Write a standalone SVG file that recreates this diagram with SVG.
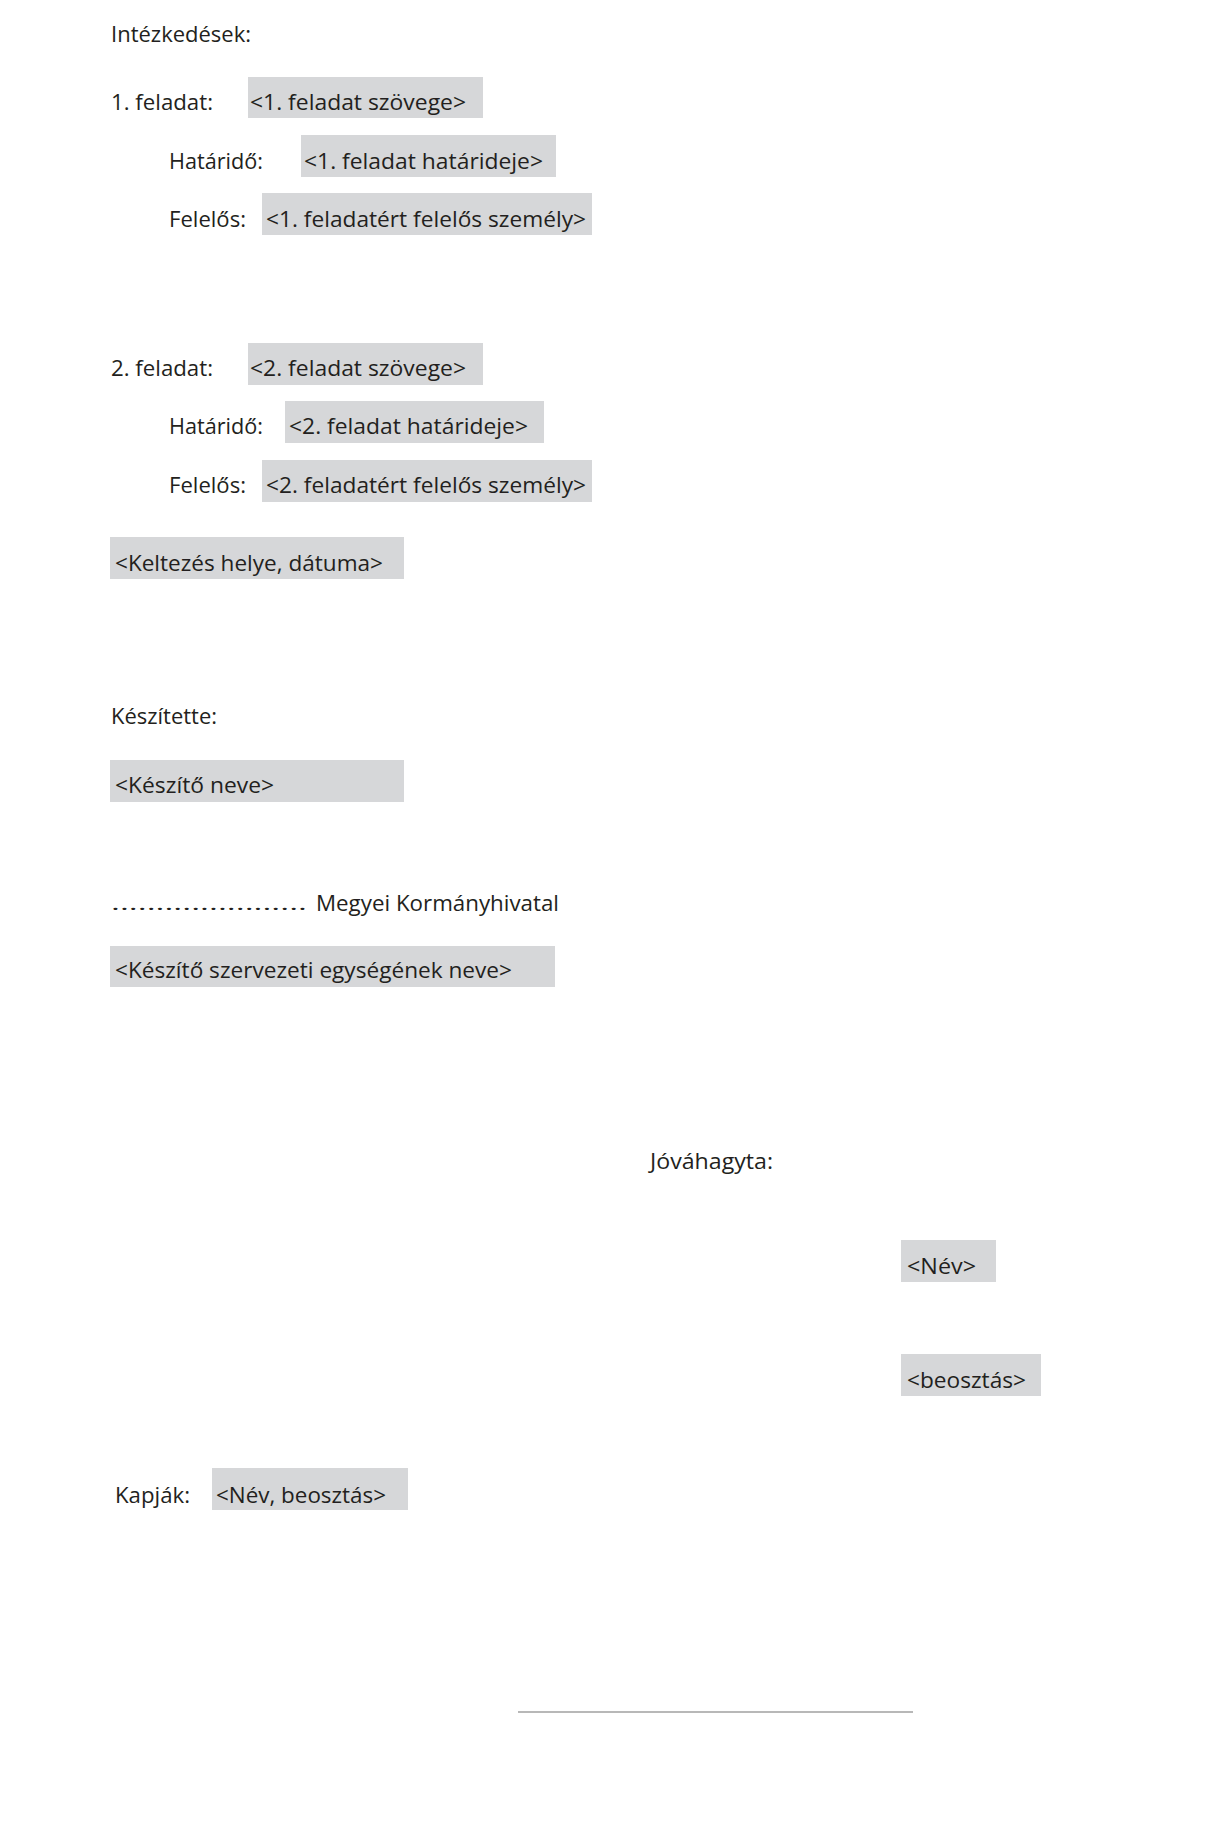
<svg xmlns="http://www.w3.org/2000/svg" width="1223" height="1839" viewBox="0 0 1223 1839">
<style>
text{font-family:"Open Sans","Noto Sans","Liberation Sans",sans-serif;font-size:21px;fill:#231f20}
.dots{font-size:18px}
.box{fill:#d6d7d9}
</style>
<rect width="1223" height="1839" fill="#ffffff"/>
<g id="heading"><text x="111" y="42" textLength="140" lengthAdjust="spacingAndGlyphs">Intézkedések:</text></g>
<g id="task1">
<text x="111" y="110" textLength="102" lengthAdjust="spacingAndGlyphs">1. feladat:</text>
<rect class="box" x="248" y="77" width="235" height="41"/>
<text x="250" y="110" textLength="216" lengthAdjust="spacingAndGlyphs">&lt;1. feladat szövege&gt;</text>
<text x="169" y="169" textLength="94" lengthAdjust="spacingAndGlyphs">Határidő:</text>
<rect class="box" x="301" y="135" width="255" height="42"/>
<text x="304" y="169" textLength="239" lengthAdjust="spacingAndGlyphs">&lt;1. feladat határideje&gt;</text>
<text x="169" y="227" textLength="77" lengthAdjust="spacingAndGlyphs">Felelős:</text>
<rect class="box" x="262" y="193" width="330" height="42"/>
<text x="266" y="227" textLength="320" lengthAdjust="spacingAndGlyphs">&lt;1. feladatért felelős személy&gt;</text>
</g>
<g id="task2">
<text x="111" y="376" textLength="102" lengthAdjust="spacingAndGlyphs">2. feladat:</text>
<rect class="box" x="248" y="343" width="235" height="42"/>
<text x="250" y="376" textLength="216" lengthAdjust="spacingAndGlyphs">&lt;2. feladat szövege&gt;</text>
<text x="169" y="434" textLength="94" lengthAdjust="spacingAndGlyphs">Határidő:</text>
<rect class="box" x="285" y="401" width="259" height="42"/>
<text x="289" y="434" textLength="239" lengthAdjust="spacingAndGlyphs">&lt;2. feladat határideje&gt;</text>
<text x="169" y="493" textLength="77" lengthAdjust="spacingAndGlyphs">Felelős:</text>
<rect class="box" x="262" y="460" width="330" height="42"/>
<text x="266" y="493" textLength="320" lengthAdjust="spacingAndGlyphs">&lt;2. feladatért felelős személy&gt;</text>
</g>
<g id="date">
<rect class="box" x="110" y="537" width="294" height="42"/>
<text x="115" y="571" textLength="268" lengthAdjust="spacingAndGlyphs">&lt;Keltezés helye, dátuma&gt;</text>
</g>
<g id="author">
<text x="111" y="724" textLength="106" lengthAdjust="spacingAndGlyphs">Készítette:</text>
<rect class="box" x="110" y="760" width="294" height="42"/>
<text x="115" y="793" textLength="159" lengthAdjust="spacingAndGlyphs">&lt;Készítő neve&gt;</text>
</g>
<g id="office">
<text class="dots" x="111" y="910" textLength="196" lengthAdjust="spacingAndGlyphs">......................</text>
<text x="316" y="911" textLength="243" lengthAdjust="spacingAndGlyphs">Megyei Kormányhivatal</text>
<rect class="box" x="110" y="946" width="445" height="41"/>
<text x="115" y="978" textLength="397" lengthAdjust="spacingAndGlyphs">&lt;Készítő szervezeti egységének neve&gt;</text>
</g>
<g id="approval">
<text x="650" y="1169" textLength="123" lengthAdjust="spacingAndGlyphs">Jóváhagyta:</text>
<rect class="box" x="901" y="1240" width="95" height="42"/>
<text x="907" y="1274" textLength="69" lengthAdjust="spacingAndGlyphs">&lt;Név&gt;</text>
<rect class="box" x="901" y="1354" width="140" height="42"/>
<text x="907" y="1388" textLength="119" lengthAdjust="spacingAndGlyphs">&lt;beosztás&gt;</text>
</g>
<g id="recipients">
<text x="115" y="1503" textLength="75" lengthAdjust="spacingAndGlyphs">Kapják:</text>
<rect class="box" x="212" y="1468" width="196" height="42"/>
<text x="216" y="1503" textLength="170" lengthAdjust="spacingAndGlyphs">&lt;Név, beosztás&gt;</text>
</g>
<g id="signature-line">
<line x1="518" y1="1712" x2="913" y2="1712" stroke="#a0a0a0" stroke-width="1.5"/>
</g>
</svg>
